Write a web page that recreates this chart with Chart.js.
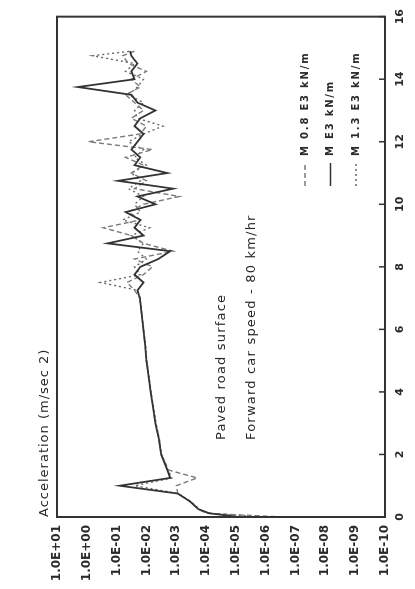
<!DOCTYPE html>
<html><head><meta charset="utf-8">
<script src="https://cdn.jsdelivr.net/npm/chart.js@4/dist/chart.umd.min.js"></script>
<style>
html,body{margin:0;padding:0;background:#fff;overflow:hidden;width:415px;height:589px;}
#wrap{position:absolute;left:0;top:0;width:589px;height:415px;transform-origin:0 0;transform:translate(0,589px) rotate(-90deg);filter:blur(0.3px);}
canvas{display:block;}
</style></head><body>
<div id="wrap"><canvas id="c" width="589" height="415"></canvas></div>
<script>
// Frequency (Hz) categories
const freqs = [0,0.12,0.25,0.5,0.75,1,1.25,1.5,2,2.5,3,3.5,4,4.5,5,5.5,6,6.5,
  7,7.25,7.5,7.75,8,8.25,8.5,8.75,9,9.25,9.5,9.75,10,10.25,10.5,10.75,11,11.25,11.5,11.75,
  12,12.25,12.5,12.75,13,13.25,13.5,13.75,14,14.25,14.5,14.75,14.9];
// Acceleration series (m/sec^2)
const accM08 = [2.5e-7,1e-4,1.8e-4,3.5e-4,8.9e-4,1e-3,2e-4,1.8e-3,3.2e-3,3.8e-3,5e-3,6e-3,7.2e-3,8.5e-3,1e-2,1.1e-2,1.26e-2,1.45e-2,
  1.66e-2,2.5e-2,4.5e-2,1.26e-2,6.3e-3,2.5e-2,1.26e-3,1.26e-2,3.2e-2,2.8e-1,1.6e-2,4e-2,1.26e-2,7.9e-4,2.5e-2,1e-2,3.2e-2,1.26e-2,5e-2,6.3e-3,
  8.9e-1,1.6e-2,1e-2,3.2e-2,1.26e-2,2.5e-2,5e-2,1.6e-2,3.2e-2,1e-2,4e-2,6.3e-2,2.5e-2];
const accM10 = [7.9e-6,7.9e-5,1.8e-4,3.5e-4,8.9e-4,7.9e-2,1.6e-3,2e-3,3.2e-3,3.8e-3,5e-3,6e-3,7.2e-3,8.5e-3,1e-2,1.1e-2,1.26e-2,1.45e-2,
  1.66e-2,2e-2,1.26e-2,2.5e-2,1.6e-2,4e-3,1.6e-3,2e-1,1.26e-2,2.5e-2,1.6e-2,5e-2,5e-3,2e-2,1.26e-3,8.9e-2,2e-3,2.5e-2,1.6e-2,3.2e-2,
  2e-2,1.26e-2,2.5e-2,1.6e-2,5e-3,2e-2,3.2e-2,2.0,2.5e-2,3.2e-2,2e-2,3.2e-2,3.5e-2];
const accM13 = [1e-6,8.9e-5,1.7e-4,3.3e-4,8.5e-4,2.5e-2,1.4e-3,1.9e-3,3.1e-3,3.7e-3,4.8e-3,5.8e-3,7e-3,8.3e-3,9.7e-3,1.08e-2,1.24e-2,1.43e-2,
  1.66e-2,2e-2,3.5e-1,1.6e-2,2.5e-2,1e-2,2e-2,1.26e-2,3.2e-2,7.9e-3,6.3e-2,1.6e-2,2.5e-2,1.26e-2,4e-2,1.6e-2,3.2e-2,1e-2,2.5e-2,1.26e-2,
  4e-2,1.26e-2,2.8e-3,2e-2,2.5e-2,1.26e-2,4e-2,2e-2,1.26e-2,5e-2,2.5e-2,6.3e-1,3.2e-2];
const seriesLabels = ['M 0.8 E3 kN/m','M E3 kN/m','M 1.3 E3 kN/m'];
const xTickValues = [0,2,4,6,8,10,12,14,16];
const yTickValues = [1e1,1e0,1e-1,1e-2,1e-3,1e-4,1e-5,1e-6,1e-7,1e-8,1e-9,1e-10];
const yTickLabels = ['1.0E+01','1.0E+00','1.0E-01','1.0E-02','1.0E-03','1.0E-04','1.0E-05','1.0E-06','1.0E-07','1.0E-08','1.0E-09','1.0E-10'];
const titleText = 'Acceleration (m/sec 2)';
const noteLines = ['Paved road surface','Forward car speed - 80 km/hr'];

const toXY = arr => freqs.map((f,i)=>({x:f,y:arr[i]}));
const TXT = '#2a2a2a';

const decor = {
  id:'decor',
  afterDraw(chart){
    const {ctx, chartArea:a, scales:{x}} = chart;
    ctx.save();
    ctx.strokeStyle = '#333'; ctx.lineWidth = 2;
    ctx.strokeRect(a.left, a.top, a.right-a.left, a.bottom-a.top);
    ctx.lineWidth = 1.5;
    xTickValues.forEach(v=>{
      const px = x.getPixelForValue(v);
      ctx.beginPath(); ctx.moveTo(px, a.bottom); ctx.lineTo(px, a.bottom-6); ctx.stroke();
    });
    ctx.fillStyle = TXT; ctx.textBaseline='middle'; ctx.textAlign='left';
    ctx.font = '13px "DejaVu Sans"';
    ctx.letterSpacing = '1px';
    ctx.fillText(titleText, a.left, 45);
    ctx.font = '13px "DejaVu Sans"';
    ctx.letterSpacing = '1.2px';
    ctx.fillText(noteLines[0], 149, 222);
    ctx.fillText(noteLines[1], 149, 252);
    ctx.font = 'bold 10px "DejaVu Sans"';
    ctx.letterSpacing = '1.8px';
    chart.data.datasets.forEach((ds,i)=>{
      const v = 305 + 25.5*i;
      ctx.strokeStyle = ds.borderColor; ctx.lineWidth = 1.5;
      ctx.setLineDash(ds.borderDash || []);
      ctx.beginPath(); ctx.moveTo(403, v); ctx.lineTo(426, v); ctx.stroke();
      ctx.setLineDash([]);
      ctx.fillText(ds.label, 433, v);
    });
    ctx.restore();
  }
};

new Chart(document.getElementById('c'), {
  type:'line',
  data:{datasets:[
    {label:seriesLabels[0], data:toXY(accM08), borderColor:'#7a7a7a', borderWidth:1.4, borderDash:[5,3], pointRadius:0, tension:0, order:1},
    {label:seriesLabels[1], data:toXY(accM10), borderColor:'#333333', borderWidth:1.8, pointRadius:0, tension:0, order:0},
    {label:seriesLabels[2], data:toXY(accM13), borderColor:'#666666', borderWidth:1.4, borderDash:[2,3], pointRadius:0, tension:0, order:2}
  ]},
  options:{
    responsive:false, animation:false, devicePixelRatio:1,
    layout:{padding:{top:57,right:15,bottom:0,left:0}},
    plugins:{legend:{display:false}, tooltip:{enabled:false}},
    scales:{
      x:{type:'linear', min:0, max:16, position:'bottom',
        afterBuildTicks:s=>{s.ticks = xTickValues.map(v=>({value:v}));},
        afterFit:s=>{s.height=30;},
        grid:{display:false, drawTicks:false}, border:{display:false},
        ticks:{autoSkip:false, maxRotation:0, padding:9, color:TXT, font:{family:'DejaVu Sans', weight:'bold', size:11}}},
      y:{type:'logarithmic', min:1e-10, max:10, position:'left',
        afterBuildTicks:s=>{s.ticks = yTickValues.map(v=>({value:v}));},
        afterFit:s=>{s.width=72;},
        grid:{display:false, drawTicks:false}, border:{display:false},
        ticks:{autoSkip:false, padding:8, color:TXT, font:{family:'DejaVu Sans', weight:'bold', size:12},
          callback:(v,i)=>yTickLabels[i]}}
    }
  },
  plugins:[decor]
});
</script>
</body></html>
